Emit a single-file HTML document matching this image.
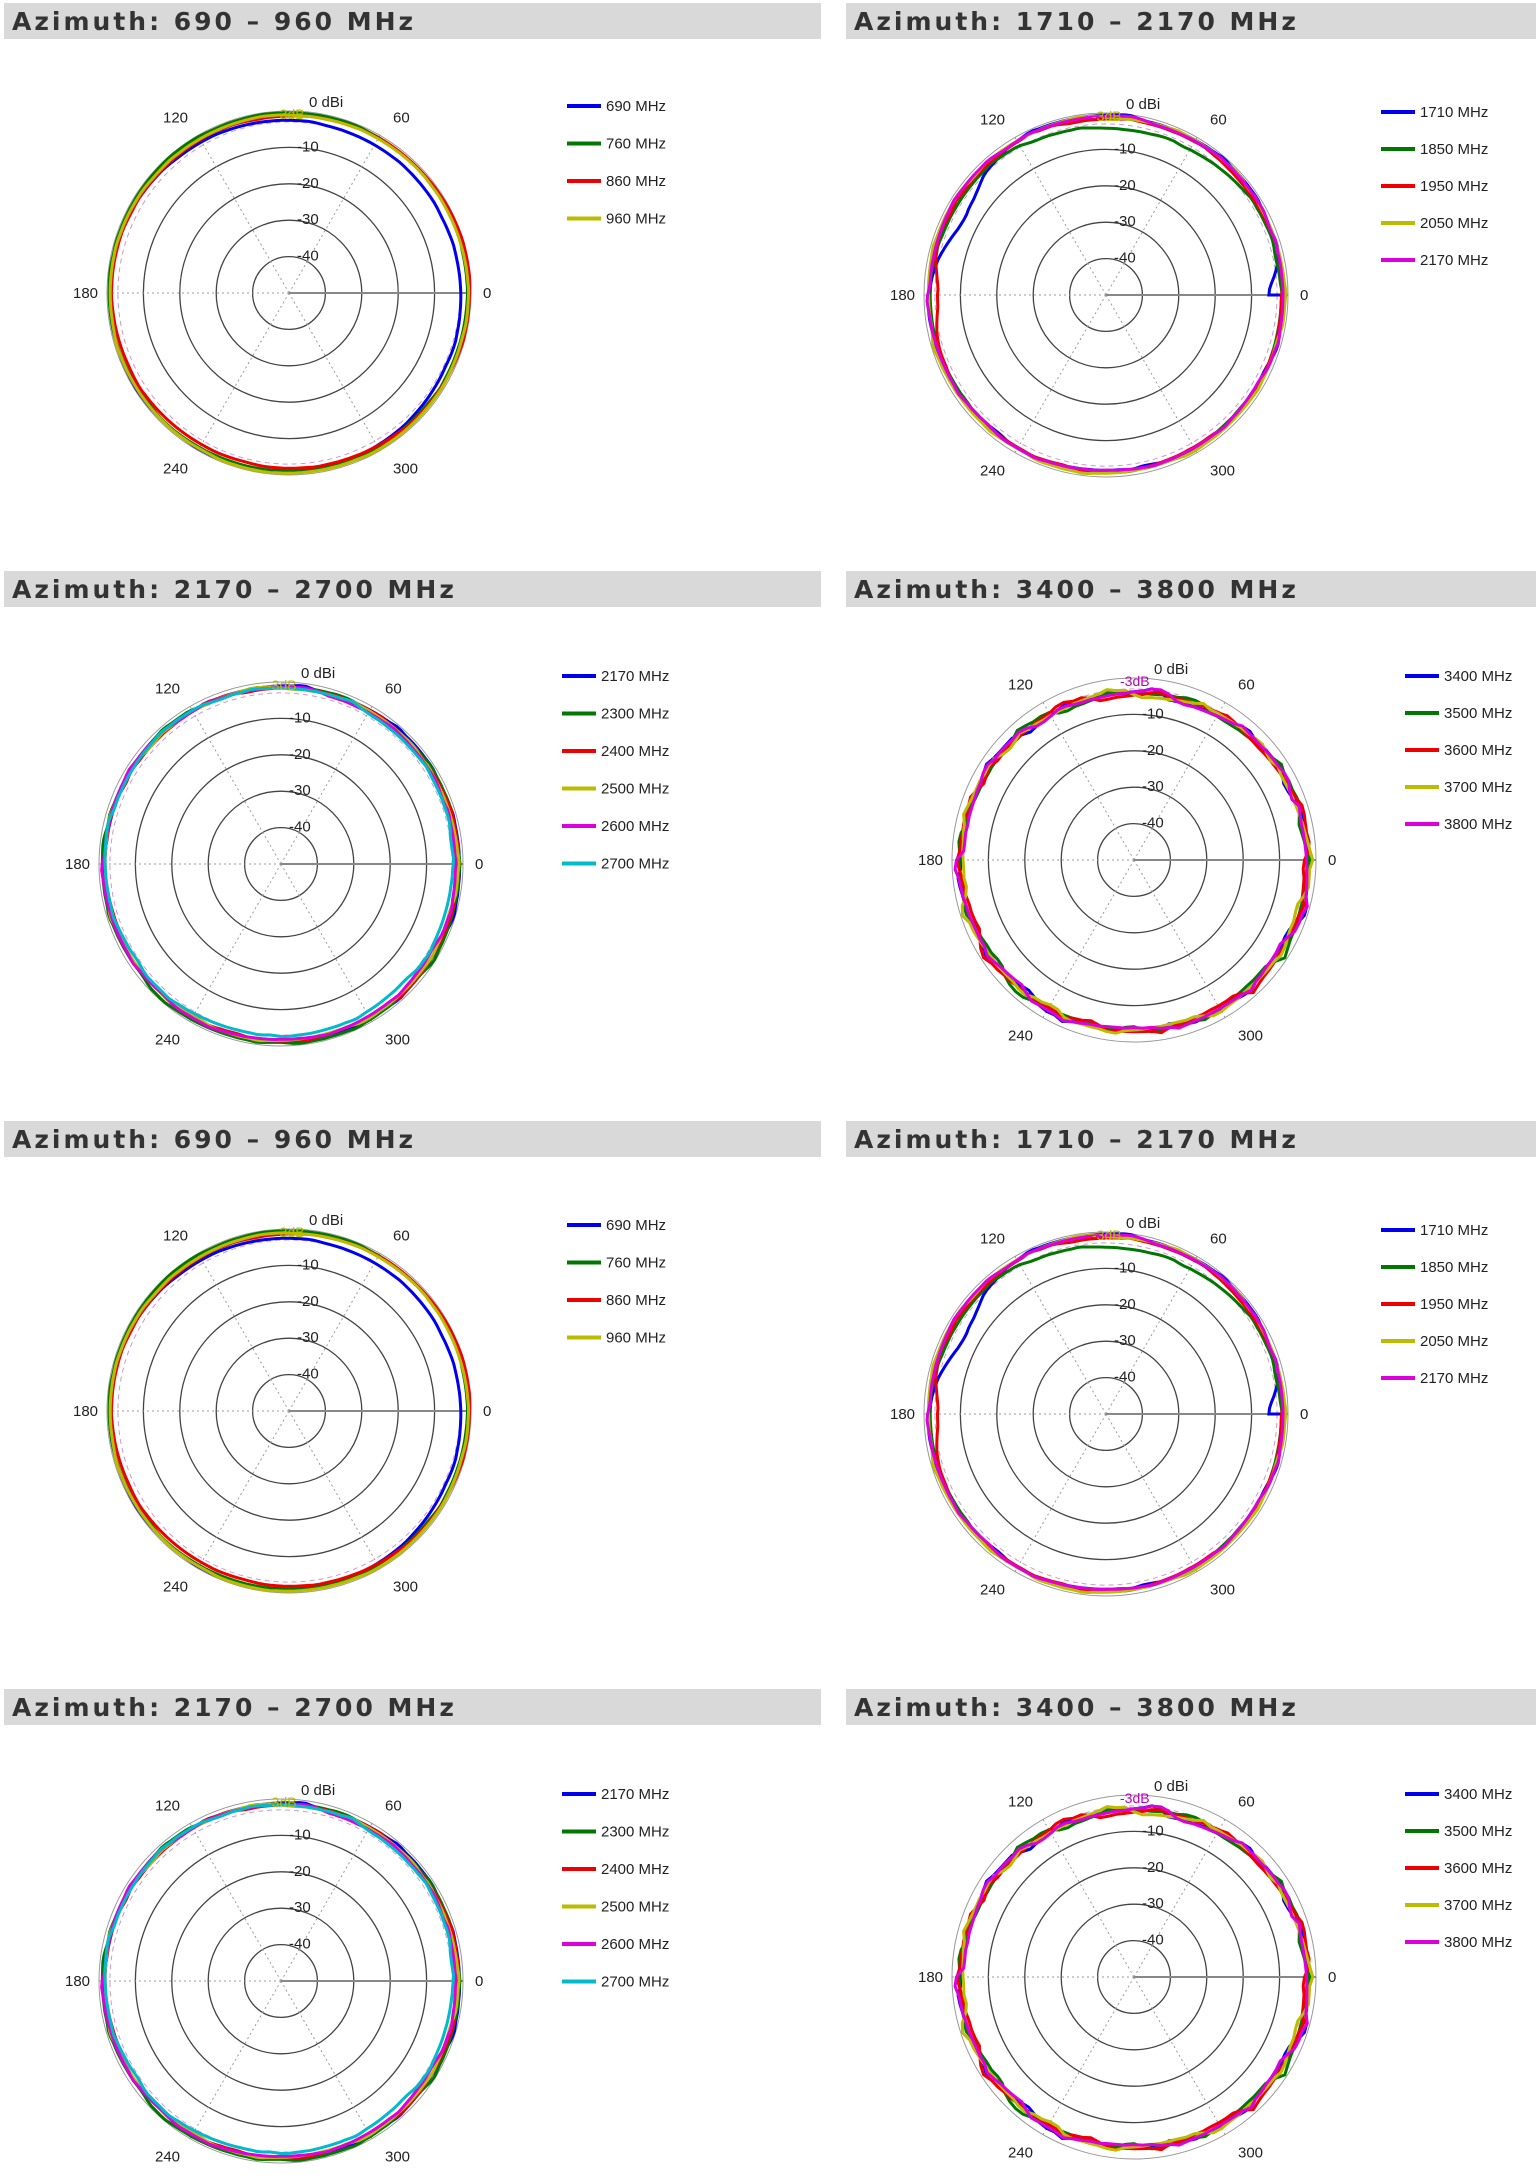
<!DOCTYPE html>
<html><head><meta charset="utf-8"><style>
body{margin:0;background:#fff;width:1536px;height:2184px;position:relative;overflow:hidden;font-family:"Liberation Sans",sans-serif}
.h{position:absolute;height:36px;background:#d9d9d9;color:#333;font-weight:bold;font-size:25px;letter-spacing:3px;line-height:38px;padding-left:8px;box-sizing:border-box;font-family:"DejaVu Sans","Liberation Sans",sans-serif}
svg{position:absolute;left:0;top:0}
</style></head><body>
<div class="h" style="left:4px;top:3px;width:817px">Azimuth: 690 – 960 MHz</div>
<div class="h" style="left:846px;top:3px;width:690px">Azimuth: 1710 – 2170 MHz</div>
<div class="h" style="left:4px;top:571px;width:817px">Azimuth: 2170 – 2700 MHz</div>
<div class="h" style="left:846px;top:571px;width:690px">Azimuth: 3400 – 3800 MHz</div>
<div class="h" style="left:4px;top:1121px;width:817px">Azimuth: 690 – 960 MHz</div>
<div class="h" style="left:846px;top:1121px;width:690px">Azimuth: 1710 – 2170 MHz</div>
<div class="h" style="left:4px;top:1689px;width:817px">Azimuth: 2170 – 2700 MHz</div>
<div class="h" style="left:846px;top:1689px;width:690px">Azimuth: 3400 – 3800 MHz</div>
<svg id="s" width="1536" height="2184" xmlns="http://www.w3.org/2000/svg"></svg>
<script>
var S=document.getElementById('s'),out='';
var R=182;
var C={b:'#0000ee',g:'#007700',r:'#ee0000',y:'#bbbb00',m:'#dd00dd',c:'#00bbcc'};
function rad(db){return R*(1+db/50);}
function rnd(seed){return function(t){var s=0;for(var k=1;k<=6;k++){s+=Math.sin(k*7*t+seed*k*1.7+k)*(0.6/k)+Math.cos(k*11*t+seed*3.1*k)*(0.4/k);}return s;}}
function panel(cx,cy,type,lx,ly,dy,series){
 var o='';
 for(var i=0;i<5;i++){o+='<circle cx="'+cx+'" cy="'+cy+'" r="'+(R-36.4*i)+'" fill="none" stroke="'+(i==0?'#999':'#444')+'" stroke-width="'+(i==0?1:1.3)+'"/>';}
 o+='<circle cx="'+cx+'" cy="'+cy+'" r="'+rad(-3)+'" fill="none" stroke="#c9c" stroke-dasharray="5,4" stroke-width="1"/>';
 [60,120,180,240,300].forEach(function(a){var t=a*Math.PI/180;o+='<line x1="'+cx+'" y1="'+cy+'" x2="'+(cx+R*Math.cos(t))+'" y2="'+(cy-R*Math.sin(t))+'" stroke="#999" stroke-dasharray="2,3" stroke-width="1"/>';});
 o+='<line x1="'+cx+'" y1="'+cy+'" x2="'+(cx+R)+'" y2="'+cy+'" stroke="#888" stroke-width="2"/>';
 series.forEach(function(s){var f=rnd(s.seed),p='';for(var j=0;j<=360;j+=(type==4?3:2)){var t=j*Math.PI/180;var db=s.g0+s.a*Math.cos(t)+s.b*Math.sin(t)+s.c*Math.cos(2*t)+s.n*f(t);if(s.dent){s.dent.forEach(function(d){var dd=(j-d[0]);db-=d[1]*Math.exp(-dd*dd/(2*d[2]*d[2]));});}
 var rr=rad(Math.min(db,0.5));p+=(j?'L':'M')+(cx+rr*Math.cos(t)).toFixed(1)+','+(cy-rr*Math.sin(t)).toFixed(1);}
 o+='<path d="'+p+'Z" fill="none" stroke="'+C[s.col]+'" stroke-width="3"/>';});
 var fs='font-family="Liberation Sans,sans-serif" font-size="15" fill="#222"';
 o+='<text x="'+(cx+R+12)+'" y="'+(cy+5)+'" '+fs+'>0</text>';
 o+='<text x="'+(cx-R-34)+'" y="'+(cy+5)+'" '+fs+'>180</text>';
 var L=[[60,'60',8,-4],[120,'120',-30,-4],[240,'240',-30,14],[300,'300',8,14]];
 L.forEach(function(q){var t=q[0]*Math.PI/180;o+='<text x="'+(cx+(R+10)*Math.cos(t)+q[2])+'" y="'+(cy-(R+10)*Math.sin(t)+q[3])+'" '+fs+'>'+q[1]+'</text>';});
 o+='<text x="'+(cx+20)+'" y="'+(cy-R-4)+'" '+fs+'>0 dBi</text>';
 o+='<text x="'+(cx-14)+'" y="'+(cy-R+8)+'" font-family="Liberation Sans,sans-serif" font-size="14" fill="'+(type==4?'#b0b':'#bb0')+'">-3dB</text>';
 for(var i=1;i<5;i++)o+='<text x="'+(cx+8)+'" y="'+(cy-R+36.4*i+4)+'" '+fs+'>-'+(i*10)+'</text>';
 series.forEach(function(s,k){var y=ly+k*dy;o+='<line x1="'+lx+'" y1="'+y+'" x2="'+(lx+34)+'" y2="'+y+'" stroke="'+C[s.col]+'" stroke-width="4"/><text x="'+(lx+39)+'" y="'+(y+5)+'" '+fs+'>'+s.name+'</text>';});
 out+=o;
}
function S1(){return[
 {name:'690 MHz',col:'b',seed:1,g0:-1.8,a:-1,b:-0.8,c:0,n:0.1},
 {name:'760 MHz',col:'g',seed:2,g0:-0.8,a:-0.2,b:0.3,c:0,n:0.1},
 {name:'860 MHz',col:'r',seed:3,g0:-1.2,a:0.5,b:0.3,c:0.4,n:0.1},
 {name:'960 MHz',col:'y',seed:4,g0:-0.8,a:0,b:-0.3,c:0,n:0.1}];}
function S2(){return[
 {name:'1710 MHz',col:'b',seed:1,g0:-1.2,a:0,b:0.5,c:0,n:0.3,dent:[[150,5,12],[0,4,6]]},
 {name:'1850 MHz',col:'g',seed:2,g0:-1.8,a:0,b:-0.5,c:0,n:0.3,dent:[[80,2,25]]},
 {name:'1950 MHz',col:'r',seed:3,g0:-1.5,a:0,b:0,c:0,n:0.3,dent:[[180,2.5,8]]},
 {name:'2050 MHz',col:'y',seed:4,g0:-1,a:0,b:0,c:0,n:0.3},
 {name:'2170 MHz',col:'m',seed:5,g0:-1.3,a:0,b:0.3,c:0,n:0.3}];}
function S3(){return[
 {name:'2170 MHz',col:'b',seed:1,g0:-1.2,a:0.3,b:0,c:0,n:0.3},
 {name:'2300 MHz',col:'g',seed:2,g0:-1,a:0,b:-0.3,c:0,n:0.3},
 {name:'2400 MHz',col:'r',seed:3,g0:-1.5,a:0.2,b:0,c:0,n:0.3},
 {name:'2500 MHz',col:'y',seed:4,g0:-1.5,a:0,b:0,c:0,n:0.3},
 {name:'2600 MHz',col:'m',seed:5,g0:-1.6,a:-0.4,b:0,c:0,n:0.3},
 {name:'2700 MHz',col:'c',seed:6,g0:-2.2,a:-0.5,b:0.6,c:0,n:0.3}];}
function S4(){return[
 {name:'3400 MHz',col:'b',seed:1,g0:-3,a:0,b:-0.5,c:0.7,n:1},
 {name:'3500 MHz',col:'g',seed:2,g0:-3,a:0,b:-0.5,c:0.7,n:1},
 {name:'3600 MHz',col:'r',seed:3,g0:-3,a:0,b:-0.5,c:0.7,n:1},
 {name:'3700 MHz',col:'y',seed:4,g0:-3,a:0,b:-0.5,c:0.7,n:1},
 {name:'3800 MHz',col:'m',seed:5,g0:-3,a:0,b:-0.5,c:0.7,n:1}];}
panel(289,293,1,567,106,37.5,S1());
panel(1106,295,2,1381,112,37,S2());
panel(281,864,3,562,676,37.5,S3());
panel(1134,860,4,1405,676,37,S4());
panel(289,1411,1,567,1225,37.5,S1());
panel(1106,1414,2,1381,1230,37,S2());
panel(281,1981,3,562,1794,37.5,S3());
panel(1134,1977,4,1405,1794,37,S4());
S.innerHTML=out;
</script>
</body></html>
